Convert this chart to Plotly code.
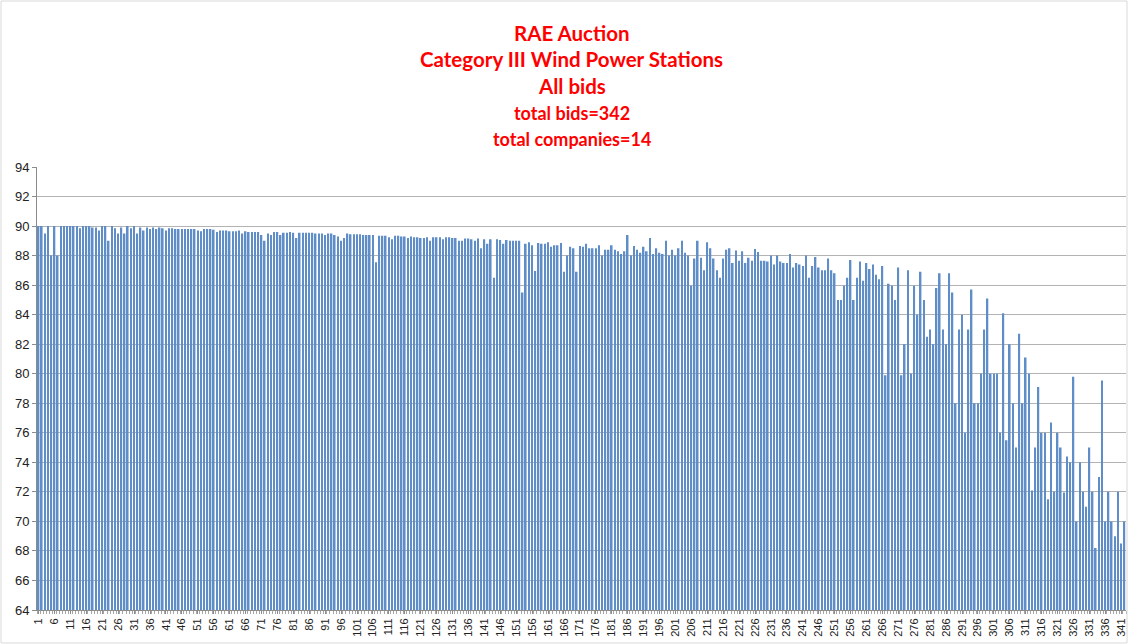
"""RAE auction - Category III wind power stations, all bids as a bar chart"""

import plotly.graph_objs as go

# bid values (index 1..342)
bids_1_67 = [90, 90, 89.5, 90, 88, 90, 88, 90, 90, 90,
             90, 90, 90, 89.85, 90, 90, 90, 89.9, 89.9, 89.7,
             90, 90, 89.0, 90, 89.85, 89.5, 89.9, 89.5, 90, 89.85,
             90, 89.5, 89.9, 89.7, 89.9, 89.8, 89.9, 89.8, 89.9, 89.85,
             89.7, 89.85, 89.85, 89.8, 89.8, 89.8, 89.8, 89.8, 89.8, 89.8,
             89.7, 89.65, 89.8, 89.8, 89.8, 89.75, 89.6, 89.7, 89.7, 89.7,
             89.65, 89.65, 89.65, 89.7, 89.5, 89.65, 89.6]
bids_68_145 = [89.6, 89.6, 89.6, 89.4, 89.0, 89.5, 89.4, 89.6, 89.6, 89.4,
               89.55, 89.55, 89.6, 89.55, 89.2, 89.55, 89.55, 89.55, 89.55, 89.55,
               89.5, 89.5, 89.5, 89.4, 89.5, 89.5, 89.4, 89.3, 89.0, 89.2,
               89.5, 89.45, 89.45, 89.45, 89.45, 89.4, 89.4, 89.4, 89.4, 87.55,
               89.35, 89.35, 89.35, 89.25, 89.1, 89.35, 89.35, 89.3, 89.3, 89.2,
               89.3, 89.25, 89.25, 89.2, 89.2, 89.25, 89.0, 89.25, 89.25, 89.25,
               89.1, 89.25, 89.25, 89.2, 89.2, 89.0, 89.0, 89.15, 89.15, 89.1,
               89.0, 89.15, 88.5, 89.1, 88.8, 89.1, 86.5, 89.1]
bids_146_224 = [89.05, 88.8, 89.05, 89.0, 89.0, 89.0, 89.0, 85.5, 88.8, 88.9,
                88.7, 86.95, 88.85, 88.8, 88.8, 88.9, 88.6, 88.7, 88.7, 88.85,
                86.9, 88.0, 88.6, 88.5, 86.9, 88.65, 88.6, 88.8, 88.5, 88.5,
                88.5, 88.7, 88.0, 88.4, 88.4, 88.7, 88.4, 88.3, 88.1, 88.3,
                89.4, 88.0, 88.65, 88.4, 88.2, 88.6, 88.3, 89.2, 88.1, 88.5,
                88.2, 88.1, 89.0, 88.0, 88.4, 88.0, 88.5, 89.0, 88.2, 88.0,
                85.95, 87.8, 89.0, 87.85, 87.0, 88.9, 88.5, 87.8, 87.0, 86.5,
                87.8, 88.4, 88.5, 87.5, 88.35, 87.65, 88.3, 87.5, 87.85]
bids_225_287 = [87.65, 88.45, 88.25, 87.65, 87.65, 87.6, 88.0, 87.4, 88.0, 87.6,
                87.5, 87.5, 88.1, 87.2, 87.5, 87.4, 87.3, 88.0, 86.5, 87.3,
                87.9, 87.2, 87.0, 87.0, 87.8, 87.0, 86.8, 85.0, 85.0, 85.95,
                86.5, 87.7, 85.0, 86.5, 87.6, 86.3, 87.5, 87.1, 87.4, 86.7,
                86.4, 87.3, 79.9, 86.1, 85.95, 85.0, 87.2, 79.9, 82.0, 87.0,
                80.0, 85.95, 84.0, 86.9, 85.0, 82.5, 83.0, 82.0, 85.8, 86.8,
                83.0, 82.0, 86.8]
bids_288_342 = [85.5, 78.0, 83.0, 84.0, 76.0, 83.0, 85.7, 78.0, 78.0, 80.0,
                83.0, 85.1, 80.0, 80.0, 80.0, 76.0, 84.1, 75.5, 82.0, 78.0,
                75.0, 82.7, 78.0, 81.1, 80.0, 72.1, 75.0, 79.1, 76.0, 76.0,
                71.5, 76.7, 72.0, 76.0, 75.0, 71.95, 74.4, 74.0, 79.8, 70.0,
                74.0, 72.0, 71.0, 75.0, 72.0, 68.2, 73.0, 79.55, 70.0, 72.0,
                70.0, 69.0, 72.0, 68.5, 70.0]

bids = bids_1_67 + bids_68_145 + bids_146_224 + bids_225_287 + bids_288_342
bid_no = list(range(1, len(bids) + 1))

# every fifth bid number is labelled on the x axis
tick_vals = bid_no[::5]
tick_text = [str(v) for v in tick_vals]

title_lines = ["RAE Auction", "Category III Wind Power Stations", "All bids",
               "total bids=342", "total companies=14"]

fig = go.Figure()
fig.add_trace(go.Bar(x=bid_no, y=bids, marker=dict(color="#5f8dc8", line=dict(width=0)),
                     showlegend=False))

# title lines placed one by one (pixel rows from the reference)
plot_top, plot_bottom = 167, 610
title_rows = [33, 59, 86, 113, 139]
title_sizes = [20.5, 20.5, 20.5, 18, 18]
for text, row, size in zip(title_lines, title_rows, title_sizes):
    fig.add_annotation(text="<b>" + text + "</b>", xref="paper", yref="paper",
                       x=0.491, y=(plot_bottom - row) / (plot_bottom - plot_top),
                       xanchor="center", yanchor="middle", showarrow=False,
                       font=dict(family="Lato, Open Sans, sans-serif", size=size, color="#ff0000"))

# thin frame around the whole chart
fig.add_shape(type="rect", xref="paper", yref="paper",
              x0=-36 / 1089, x1=1090 / 1089, y0=-33 / 443, y1=609 / 443,
              line=dict(color="#d9d9d9", width=1))

fig.update_layout(
    width=1131, height=644,
    margin=dict(l=37, r=5, t=167, b=34),
    paper_bgcolor="white", plot_bgcolor="white",
    bargap=0.5,
    font=dict(family="Liberation Sans, Arial, sans-serif", color="#222222"),
    xaxis=dict(range=[0.5, len(bids) + 0.5], tickvals=tick_vals, ticktext=tick_text,
               tickangle=-90, tickfont=dict(size=11), showgrid=False,
               showline=True, linecolor="#8c8c8c", ticks="outside", ticklen=3,
               tickcolor="#8c8c8c",
               minor=dict(dtick=1, tick0=0.5, ticks="outside", ticklen=3, tickcolor="#a6a6a6")),
    yaxis=dict(range=[64, 94], dtick=2, tickfont=dict(size=13), showgrid=True,
               gridcolor="#b3b3b3", gridwidth=1, showline=True, linecolor="#8c8c8c",
               ticks="outside", ticklen=4, tickcolor="#8c8c8c", zeroline=False),
)

# the page body has a default 8px margin; drop it so the figure sits at the top-left corner
fig.write_html("out.html", config={"displayModeBar": False},
               post_script="document.body.style.margin='0';")
